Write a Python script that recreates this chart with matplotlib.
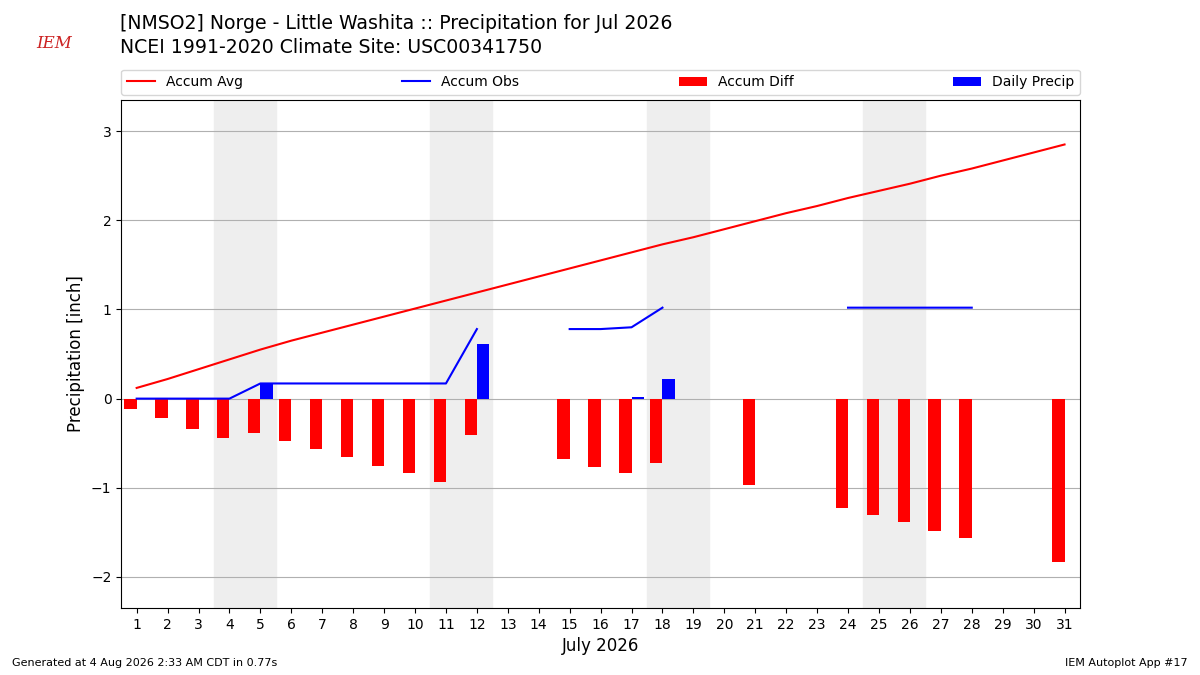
import numpy as np
import matplotlib
matplotlib.use("Agg")
import matplotlib.pyplot as plt

days = np.arange(1, 32)
accum_avg = [0.12,0.22,0.33,0.44,0.55,0.65,0.74,0.83,0.92,1.01,1.10,1.19,1.28,1.37,1.46,1.55,
             1.64,1.73,1.81,1.90,1.99,2.08,2.16,2.25,2.33,2.41,2.50,2.58,2.67,2.76,2.85]
nan = np.nan
accum_obs = [0,0,0,0,0.17,0.17,0.17,0.17,0.17,0.17,0.17,0.78,nan,nan,0.78,0.78,0.80,1.02,
             nan,nan,nan,nan,nan,1.02,1.02,1.02,1.02,1.02,nan,nan,nan]
diff_days = [1,2,3,4,5,6,7,8,9,10,11,12,15,16,17,18,21,24,25,26,27,28,31]
diff_vals = [-0.12,-0.22,-0.34,-0.44,-0.38,-0.48,-0.57,-0.66,-0.75,-0.83,-0.93,-0.41,
             -0.68,-0.77,-0.83,-0.72,-0.97,-1.23,-1.30,-1.38,-1.48,-1.56,-1.83]
precip_days = [5,12,17,18]
precip_vals = [0.17,0.61,0.02,0.22]
weekends = [4,11,18,25]

fig = plt.figure(figsize=(12,6.75), dpi=100)
ax = fig.add_axes([0.101, 0.099, 0.799, 0.753])
for w in weekends:
    ax.axvspan(w-0.5, w+1.5, color='#eeeeee', zorder=0)
ax.plot(days, accum_avg, color='r', label='Accum Avg', zorder=3)
ax.plot(days, accum_obs, color='b', label='Accum Obs', zorder=3)
ax.bar(np.array(diff_days)-0.2, diff_vals, width=0.4, color='r', label='Accum Diff', zorder=2)
ax.bar(np.array(precip_days)+0.2, precip_vals, width=0.4, color='b', label='Daily Precip', zorder=2)
ax.set_xlim(0.5, 31.5)
ax.set_ylim(-2.35, 3.35)
ax.set_xticks(days)
ax.set_yticks([-2,-1,0,1,2,3])
ax.set_yticklabels(['\u22122','\u22121','0','1','2','3'])
ax.grid(axis='y', color='#b0b0b0', zorder=1)
ax.set_axisbelow(True)
ax.tick_params(labelsize=10)
ax.set_xlabel('July 2026', fontsize=12)
ax.set_ylabel('Precipitation [inch]', fontsize=12)
ax.legend(loc='lower left', bbox_to_anchor=(0, 1.01, 1, 0.1), ncol=4, mode='expand',
          borderaxespad=0, fontsize=10)
fig.text(0.1, 0.965, '[NMSO2] Norge - Little Washita :: Precipitation for Jul 2026', fontsize=13.6, va='center')
fig.text(0.1, 0.929, 'NCEI 1991-2020 Climate Site: USC00341750', fontsize=13.6, va='center')
fig.text(0.03, 0.935, 'IEM', color='#cc2222', fontsize=12, style='italic', family='serif', va='center')
fig.text(0.01, 0.014, 'Generated at 4 Aug 2026 2:33 AM CDT in 0.77s', fontsize=8)
fig.text(0.99, 0.014, 'IEM Autoplot App #17', fontsize=8, ha='right')
fig.savefig('out.png')
